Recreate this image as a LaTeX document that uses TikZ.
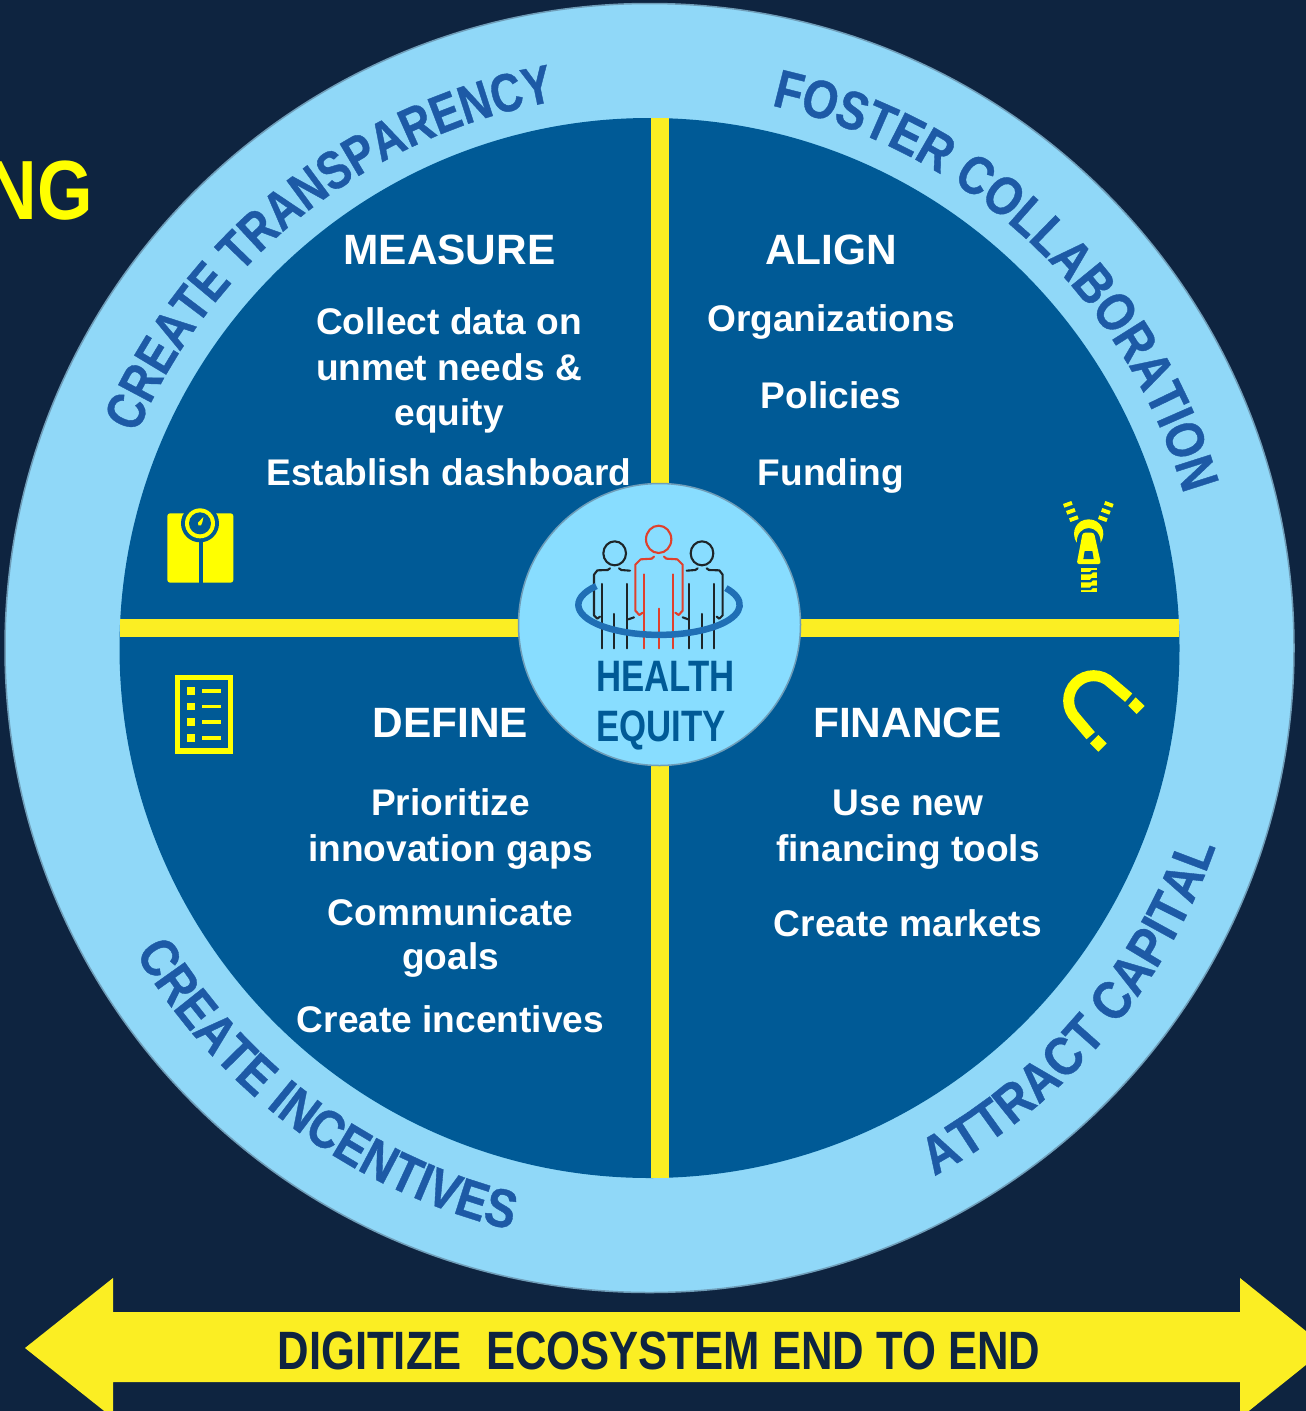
\documentclass[tikz,border=0pt]{standalone}
\usepackage{fontspec}
\usetikzlibrary{decorations.text}
\setmainfont{Liberation Sans}
\newfontfamily\condfam[FakeStretch=0.79]{Liberation Sans}
\newfontfamily\ngfam[FakeStretch=0.85]{Liberation Sans}
\newfontfamily\arrowfam[FakeStretch=0.808]{Liberation Sans}
\newfontfamily\ringA[UprightFont={* Bold},FakeStretch=0.81,FakeBold=0.7]{Liberation Sans}
\newfontfamily\ringB[UprightFont={* Bold},FakeStretch=0.84,FakeBold=0.7]{Liberation Sans}
\newfontfamily\ringC[UprightFont={* Bold},FakeStretch=0.855,FakeBold=0.7]{Liberation Sans}
\newfontfamily\ringD[UprightFont={* Bold},FakeStretch=0.88,FakeBold=0.7]{Liberation Sans}
\newcommand\ringsize{\fontsize{54}{60}\selectfont\color{ringtxt}}
\definecolor{navy}{HTML}{0E2440}
\definecolor{ringc}{HTML}{90D8F8}
\definecolor{ringb}{HTML}{6F9DB8}
\definecolor{inner}{HTML}{005A96}
\definecolor{crossc}{HTML}{FBEE23}
\definecolor{iconc}{HTML}{FFFF00}
\definecolor{hubc}{HTML}{88DDFF}
\definecolor{ringtxt}{HTML}{1D5AA6}
\definecolor{ringblue}{HTML}{1F6FB5}
\definecolor{redp}{HTML}{E0402C}
\definecolor{blackp}{HTML}{1E2528}
\tikzset{
 head/.style={anchor=base,inner sep=0pt,text=white,font=\fontsize{42.4}{46}\selectfont\bfseries},
 body/.style={anchor=base,inner sep=0pt,text=white,font=\fontsize{37.1}{42}\selectfont\bfseries},
 hub/.style={anchor=base west,inner sep=0pt,text=inner,font=\fontsize{44}{48}\selectfont\bfseries\condfam},
 iconscope/.style={x=0.33333pt,y=-0.33333pt},
 redline/.style={draw=redp,line width=2.1pt,line cap=round,line join=round},
 blackline/.style={draw=blackp,line width=2.1pt,line cap=round,line join=round},
 ringtext/.style={decorate,decoration={text along path,text align=center,text={#1}}}
}
\begin{document}
\begin{tikzpicture}[x=1pt,y=1pt]
\useasboundingbox (0,-1411) rectangle (1306,0);
\clip (0,-1411) rectangle (1306,0);
\fill[navy] (0,-1411) rectangle (1306,0);
\node[anchor=base east,inner sep=0pt,text=iconc,font=\fontsize{84}{88}\selectfont\bfseries\ngfam] (ng) at (93,-219) {NG};
% wheel
\filldraw[fill=ringc,draw=ringb,line width=1.5pt] (649.5,-648) circle[radius=644.5];
\fill[inner] (649.5,-648) circle[radius=530];
\fill[crossc] (650.5,-118) rectangle (668.5,-1178);
\fill[crossc] (120,-619) rectangle (1179,-637);
\filldraw[fill=hubc,draw=ringb,line width=1.5pt] (659.5,-624.5) circle[radius=141];
% ring texts
\path[ringtext={|\ringA\ringsize|CREATE TRANSPARENCY}] ([shift={(159.5:562)}]653.5,-654.5) arc[start angle=159.5,end angle=97.5,radius=562];
\path[ringtext={|\ringB\ringsize|FOSTER COLLABORATION}] ([shift={(80:556)}]649.5,-648) arc[start angle=80,end angle=13.4,radius=556];
\path[ringtext={|\ringC\ringsize|CREATE INCENTIVES}] ([shift={(206:598)}]649.5,-648) arc[start angle=206,end angle=261.3,radius=598];
\path[ringtext={|\ringD\ringsize|ATTRACT CAPITAL}] ([shift={(-65.5:600)}]649.5,-648) arc[start angle=-65.5,end angle=-15.5,radius=600];
% texts
\node[head] (t1) at (449.5,-264) {MEASURE};
\node[body] (t2) at (449,-334) {Collect data on};
\node[body] (t3) at (449,-380) {unmet needs \&};
\node[body] (t4) at (449,-425) {equity};
\node[body] (t5) at (449,-485) {Establish dashboard};
\node[head] (t6) at (831,-264) {ALIGN};
\node[body] (t7) at (831,-331) {Organizations};
\node[body] (t8) at (831,-408) {Policies};
\node[body] (t9) at (831,-485) {Funding};
\node[head] (t10) at (450.5,-737.5) {DEFINE};
\node[body] (t11) at (450.5,-815) {Prioritize};
\node[body] (t12) at (450.5,-861) {innovation gaps};
\node[body] (t13) at (450.5,-925) {Communicate};
\node[body] (t14) at (450.5,-969) {goals};
\node[body] (t15) at (450.5,-1032) {Create incentives};
\node[head] (t16) at (907.5,-737.5) {FINANCE};
\node[body] (t17) at (908,-815) {Use new};
\node[body] (t18) at (908,-861) {financing tools};
\node[body] (t19) at (908,-936) {Create markets};
\node[hub] (h1) at (596,-691) {HEALTH};
\node[hub] (h2) at (596,-741) {EQUITY};
% people
\begin{scope}[shift={(510,-480)},iconscope]
 \draw[redline] (446,178) ellipse[x radius=38,y radius=41];
 \draw[redline] (432,230) -- (425,236) -- (392,238) -- (376,254) -- (376,392) -- (388,405) -- (398,398);
 \draw[redline] (462,230) -- (469,236) -- (502,238) -- (518,254) -- (518,392) -- (506,405) -- (496,398);
 \draw[redline] (403,283) -- (403,505) (490,283) -- (490,505) (447,386) -- (447,505);
 \foreach \m/\o in {1/0,-1/890}{
  \begin{scope}[xshift=\o*0.33333pt,x=\m*0.33333pt]
  \draw[blackline] (314,220) ellipse[x radius=34,y radius=36];
  \draw[blackline] (300,265) -- (293,270) -- (262,271) -- (252,284) -- (252,406) -- (262,416) -- (270,410);
  \draw[blackline] (327,265) -- (334,270) -- (360,272);
  \draw[blackline] (355,418) -- (372,412);
  \draw[blackline] (277,312) -- (277,505) (352,312) -- (352,505) (313,402) -- (313,505);
  \end{scope}
 }
 \draw[ringblue,line width=6.5pt] (259,318) arc[start angle=219,end angle=-34,x radius=242,y radius=90];
\end{scope}
% scale icon
\begin{scope}[shift={(150,-490)},iconscope]
 \fill[iconc,rounded corners=2.7pt] (52,70) rectangle (250,278);
 \fill[inner] (150,100) circle[radius=57];
 \fill[inner] (146,130) rectangle (158,280);
 \fill[iconc] (150,100) circle[radius=45];
 \fill[inner] (150,100) circle[radius=33];
 \fill[iconc] (160,81) .. controls (158,92) and (157,102) .. (153,106) .. controls (148,110) and (140,105) .. (144,98) -- cycle;
\end{scope}
% zipper icon
\begin{scope}[shift={(1040,-490)},iconscope]
 \fill[iconc] (69,42)--(94,33)--(98,44)--(73,53)--cycle (78,63)--(103,54)--(107,65)--(82,74)--cycle (87,85)--(112,76)--(116,87)--(91,96)--cycle;
 \fill[iconc] (221,42)--(196,33)--(192,44)--(217,53)--cycle (212,63)--(187,54)--(183,65)--(208,74)--cycle (203,85)--(178,76)--(174,87)--(199,96)--cycle;
 \fill[iconc] (110,158) .. controls (90,125) and (110,88) .. (146,88) .. controls (182,88) and (202,125) .. (182,158) .. controls (182,130) and (165,114) .. (146,114) .. controls (127,114) and (110,130) .. (110,158) -- cycle;
 \fill[iconc,rounded corners=2.5pt] (128,128) -- (162,128) -- (183,222) -- (110,222) -- cycle;
 \fill[inner] (134,183) -- (157,183) -- (161,207) -- (130,207) -- cycle;
 \fill[iconc] (122,233) rectangle (170,307);
 \foreach \yy in {0,24,47}{
  \fill[inner] (120,246+\yy) -- (150,246+\yy) -- (155,240+\yy) -- (172,240+\yy) -- (172,247+\yy) -- (158,247+\yy) -- (153,253+\yy) -- (120,253+\yy) -- cycle;
 }
\end{scope}
% list icon
\begin{scope}[shift={(160,-665)},iconscope]
 \draw[iconc,line width=5.2pt] (53.5,38) rectangle (210.5,258);
 \foreach \yy in {66,113,160,207}{
  \fill[iconc] (82,\yy) rectangle (105,\yy+23);
  \fill[iconc] (127,\yy+6) rectangle (183,\yy+17);
 }
\end{scope}
% magnet icon
\begin{scope}[shift={(1050,-660)},iconscope]
 \draw[iconc,line width=11pt] (236,113) -- (184,69) arc[start angle=-45,end angle=-225,radius=75] -- (122,227);
 \fill[iconc] (257,112)--(284,138)--(260,162)--(235,137)--cycle;
 \fill[iconc] (145,225)--(170,250)--(145,275)--(120,250)--cycle;
\end{scope}
% arrow
\fill[crossc] (25,-1348) -- (113,-1278) -- (113,-1312) -- (1240,-1312) -- (1240,-1278) -- (1327,-1348) -- (1240,-1418) -- (1240,-1382) -- (113,-1382) -- (113,-1418) -- cycle;
\node[anchor=base,inner sep=0pt,text=navy,font=\fontsize{54}{58}\selectfont\bfseries\arrowfam] (dig) at (659,-1369) {DIGITIZE\ \ ECOSYSTEM END TO END};
\end{tikzpicture}
\end{document}
